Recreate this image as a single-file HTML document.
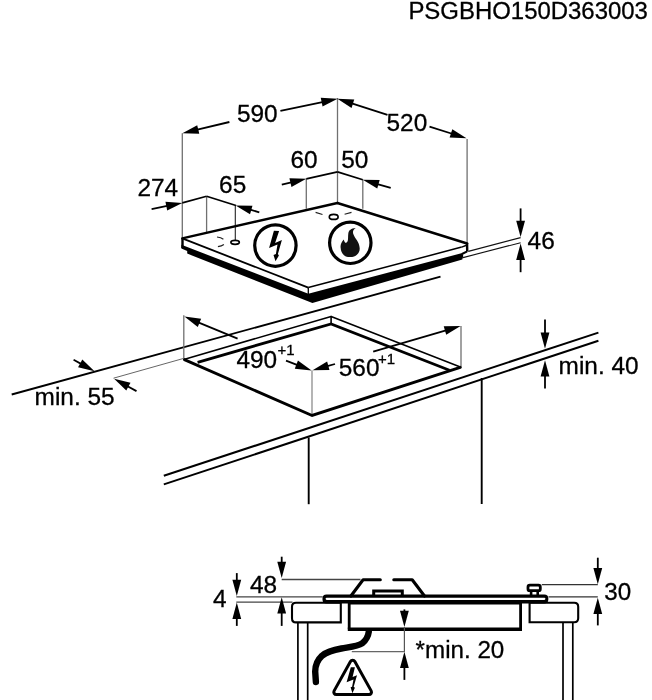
<!DOCTYPE html>
<html><head><meta charset="utf-8"><title>PSGBHO150D363003</title>
<style>
html,body{margin:0;padding:0;background:#fff;}
svg{display:block;filter:grayscale(1);}
text{font-family:"Liberation Sans",sans-serif;fill:#000;stroke:#000;stroke-width:0.3px;}
</style></head><body>
<svg width="652" height="700" viewBox="0 0 652 700">
<rect width="652" height="700" fill="#fff"/>
<text x="408.4" y="18.5" font-size="23.95" text-anchor="start" >PSGBHO150D363003</text>
<line x1="182.3" y1="133.3" x2="182.3" y2="238.4" stroke="#707070" stroke-width="1.3" stroke-linecap="butt"/>
<line x1="337.5" y1="98" x2="337.5" y2="202.6" stroke="#707070" stroke-width="1.3" stroke-linecap="butt"/>
<line x1="467.1" y1="139" x2="467.1" y2="243.5" stroke="#707070" stroke-width="1.3" stroke-linecap="butt"/>
<line x1="206.6" y1="196.3" x2="206.6" y2="232.4" stroke="#707070" stroke-width="1.3" stroke-linecap="butt"/>
<line x1="235.3" y1="205.4" x2="235.3" y2="240" stroke="#222" stroke-width="1.1" stroke-linecap="butt"/>
<line x1="306.3" y1="178.8" x2="306.3" y2="208.7" stroke="#707070" stroke-width="1.3" stroke-linecap="butt"/>
<line x1="362.8" y1="179.8" x2="362.8" y2="208.7" stroke="#707070" stroke-width="1.3" stroke-linecap="butt"/>
<line x1="182.3" y1="238.4" x2="337.4" y2="203" stroke="#000" stroke-width="2.4" stroke-linecap="round"/>
<line x1="337.4" y1="203" x2="467.1" y2="243.5" stroke="#000" stroke-width="2.5" stroke-linecap="round"/>
<line x1="182.3" y1="238.4" x2="308.3" y2="287.6" stroke="#000" stroke-width="1.8" stroke-linecap="butt"/>
<line x1="308.3" y1="287.6" x2="461.7" y2="247.1" stroke="#000" stroke-width="1.5" stroke-linecap="butt"/>
<line x1="461.7" y1="247.1" x2="467.1" y2="245.0" stroke="#000" stroke-width="1.5" stroke-linecap="butt"/>
<line x1="182.5" y1="238.4" x2="182.5" y2="248" stroke="#000" stroke-width="2.4" stroke-linecap="butt"/>
<line x1="308.3" y1="287.6" x2="308.3" y2="294" stroke="#000" stroke-width="1.3" stroke-linecap="butt"/>
<line x1="467.1" y1="243.0" x2="467.2" y2="251.6" stroke="#000" stroke-width="2.4" stroke-linecap="butt"/>
<polygon points="181.4,244.8 308.3,293.7 462.3,253 463.3,256 462.3,259.6 312.4,303 187.2,253.6 187.2,251 181.4,248.6" fill="#000" stroke="none" stroke-width="0" stroke-linejoin="miter"/>
<line x1="462" y1="254" x2="467.2" y2="251.4" stroke="#000" stroke-width="2" stroke-linecap="butt"/>
<line x1="468.3" y1="251.4" x2="520.6" y2="237.6" stroke="#111" stroke-width="1.1" stroke-linecap="butt"/>
<line x1="463" y1="257.6" x2="520.6" y2="242.7" stroke="#111" stroke-width="1.1" stroke-linecap="butt"/>
<line x1="520.6" y1="208.4" x2="520.6" y2="222.8" stroke="#000" stroke-width="1.8" stroke-linecap="butt"/>
<polygon points="520.60,237.10 516.20,220.80 525.00,220.80" fill="#000"/>
<line x1="520.6" y1="272.2" x2="520.6" y2="257.9" stroke="#000" stroke-width="1.8" stroke-linecap="butt"/>
<polygon points="520.60,243.60 525.00,259.90 516.20,259.90" fill="#000"/>
<text x="527.6" y="249.4" font-size="24.4" text-anchor="start" >46</text>
<line x1="229.4" y1="122" x2="196.3" y2="129.96" stroke="#000" stroke-width="1.8" stroke-linecap="butt"/>
<polygon points="182.40,133.30 197.22,125.21 199.28,133.77" fill="#000"/>
<line x1="280.4" y1="110.9" x2="323.61" y2="101.76" stroke="#000" stroke-width="1.8" stroke-linecap="butt"/>
<polygon points="337.60,98.80 322.56,106.48 320.74,97.87" fill="#000"/>
<text x="236.9" y="121.7" font-size="24.4" text-anchor="start" >590</text>
<line x1="387.5" y1="114.8" x2="351.01" y2="103.08" stroke="#000" stroke-width="1.8" stroke-linecap="butt"/>
<polygon points="337.40,98.70 354.26,99.50 351.57,107.88" fill="#000"/>
<line x1="429.5" y1="126.6" x2="452.87" y2="133.99" stroke="#000" stroke-width="1.8" stroke-linecap="butt"/>
<polygon points="466.50,138.30 449.63,137.58 452.29,129.19" fill="#000"/>
<text x="386.5" y="130.9" font-size="24.4" text-anchor="start" >520</text>
<line x1="151.6" y1="209.1" x2="168.28" y2="205.73" stroke="#000" stroke-width="1.8" stroke-linecap="butt"/>
<polygon points="182.30,202.90 167.19,210.44 165.45,201.81" fill="#000"/>
<line x1="182.3" y1="202.9" x2="206.6" y2="196.3" stroke="#000" stroke-width="1.7" stroke-linecap="butt"/>
<line x1="206.6" y1="196.3" x2="236" y2="205.5" stroke="#000" stroke-width="1.7" stroke-linecap="butt"/>
<line x1="259.3" y1="212.3" x2="249.33" y2="209.4" stroke="#000" stroke-width="1.8" stroke-linecap="butt"/>
<polygon points="235.60,205.40 252.48,205.73 250.02,214.18" fill="#000"/>
<text x="137.4" y="195.6" font-size="24.4" text-anchor="start" >274</text>
<text x="219.1" y="192.6" font-size="24.4" text-anchor="start" >65</text>
<line x1="281.8" y1="184.7" x2="292.4" y2="182.15" stroke="#000" stroke-width="1.8" stroke-linecap="butt"/>
<polygon points="306.30,178.80 291.48,186.89 289.42,178.34" fill="#000"/>
<line x1="306.3" y1="178.8" x2="337.5" y2="171.9" stroke="#000" stroke-width="1.7" stroke-linecap="butt"/>
<line x1="337.5" y1="171.9" x2="362.8" y2="179.8" stroke="#000" stroke-width="1.7" stroke-linecap="butt"/>
<line x1="390.7" y1="187.9" x2="376.53" y2="183.79" stroke="#000" stroke-width="1.8" stroke-linecap="butt"/>
<polygon points="362.80,179.80 379.68,180.12 377.23,188.57" fill="#000"/>
<text x="290.4" y="167.5" font-size="24.4" text-anchor="start" >60</text>
<text x="341.2" y="167.5" font-size="24.4" text-anchor="start" >50</text>
<ellipse cx="235.1" cy="242.3" rx="4.2" ry="2.0" fill="#fff" stroke="#000" stroke-width="1.7"/>
<ellipse cx="333.7" cy="216.9" rx="4.4" ry="2.5" fill="#fff" stroke="#000" stroke-width="1.7"/>
<path d="M217 237 Q221 237.4 223.4 239.3 M217.9 246.6 Q221.6 246.3 223.9 244.5" fill="none" stroke="#222" stroke-width="1.1" />
<path d="M315.6 212.4 L322.5 214.5 M344.6 214.3 L351.5 212.4" fill="none" stroke="#222" stroke-width="1.1" />
<circle cx="275.4" cy="245.6" r="20.7" fill="none" stroke="#000" stroke-width="3.2"/>
<polygon points="273.9,230.8 279.1,231 275.1,242.9 281.9,240.1 277.9,254.1 278.9,255.5 275.5,261.3 273.5,254.9 275.9,254.1 277.5,244.5 269.1,248.1" fill="#000" stroke="none" stroke-width="0" stroke-linejoin="miter"/>
<circle cx="350.3" cy="242.8" r="20.7" fill="none" stroke="#000" stroke-width="3.2"/>
<path d="M355.7 228 C351 228.5 348.9 230 348.3 233.5 C347.9 236.5 348.3 239 347.7 241.1 C347 242.8 346 243 345.3 242.7 C344.3 242 344.3 240.8 343.7 239.5 C341.5 242 340.3 244.5 340.6 247.5 C340.8 251 342 253.5 344 255.2 C346 256.8 348 257.2 350 257.1 C353 257 355.5 256 356.9 254.7 C358.8 253 359.8 250.8 359.7 248.3 C359.5 245 358.3 242.5 356.9 240.3 C355.5 238 354 236 353.3 233.9 C352.6 231.8 353 229.5 355.7 228 Z" fill="#111" stroke="none" stroke-width="1.7" />
<line x1="11.7" y1="394.5" x2="440.5" y2="276.7" stroke="#000" stroke-width="1.9" stroke-linecap="butt"/>
<line x1="183.8" y1="315.2" x2="183.8" y2="359.4" stroke="#707070" stroke-width="1.3" stroke-linecap="butt"/>
<line x1="312" y1="370.4" x2="312" y2="415.3" stroke="#777" stroke-width="1.1" stroke-linecap="butt"/>
<line x1="461" y1="326" x2="461" y2="367.3" stroke="#707070" stroke-width="1.3" stroke-linecap="butt"/>
<line x1="183.8" y1="359.4" x2="331.1" y2="316.6" stroke="#000" stroke-width="1.6" stroke-linecap="round"/>
<line x1="331.1" y1="316.6" x2="461" y2="367.2" stroke="#000" stroke-width="1.6" stroke-linecap="round"/>
<path d="M197.6 362.3 L331.1 323.9 L449.5 370.3" fill="none" stroke="#000" stroke-width="2.8" />
<line x1="331.1" y1="316.6" x2="331.1" y2="323.9" stroke="#000" stroke-width="1.6" stroke-linecap="butt"/>
<path d="M183.8 359.4 L312.1 415.5 L461 367.2" fill="none" stroke="#000" stroke-width="2.9" stroke-linejoin="miter"/>
<line x1="237.6" y1="338.7" x2="197.61" y2="322.09" stroke="#000" stroke-width="1.8" stroke-linecap="butt"/>
<polygon points="184.40,316.60 201.14,318.79 197.76,326.92" fill="#000"/>
<line x1="286" y1="360.7" x2="298.23" y2="365.33" stroke="#000" stroke-width="1.8" stroke-linecap="butt"/>
<polygon points="311.60,370.40 294.80,368.74 297.92,360.51" fill="#000"/>
<line x1="335" y1="364" x2="326.38" y2="366.39" stroke="#000" stroke-width="1.8" stroke-linecap="butt"/>
<polygon points="312.60,370.20 327.14,361.61 329.48,370.09" fill="#000"/>
<line x1="373.2" y1="351.6" x2="446.88" y2="330.02" stroke="#000" stroke-width="1.8" stroke-linecap="butt"/>
<polygon points="460.60,326.00 446.19,334.80 443.72,326.36" fill="#000"/>
<text x="236.4" y="367.6" font-size="24.4" text-anchor="start" >490</text>
<text x="277.5" y="355.2" font-size="15" text-anchor="start" >+1</text>
<text x="338.8" y="375.6" font-size="24.4" text-anchor="start" >560</text>
<text x="378" y="364" font-size="15" text-anchor="start" >+1</text>
<line x1="73.6" y1="359.8" x2="81.95" y2="364.35" stroke="#000" stroke-width="1.8" stroke-linecap="butt"/>
<polygon points="94.50,371.20 78.08,367.26 82.30,359.53" fill="#000"/>
<line x1="136.5" y1="391.1" x2="126.63" y2="385.68" stroke="#000" stroke-width="1.8" stroke-linecap="butt"/>
<polygon points="114.10,378.80 130.51,382.79 126.27,390.50" fill="#000"/>
<line x1="113.5" y1="378.2" x2="184" y2="358.3" stroke="#555" stroke-width="0.9" stroke-linecap="butt"/>
<text x="34.6" y="405.2" font-size="24.4" text-anchor="start" >min. 55</text>
<line x1="163.8" y1="475.8" x2="598.4" y2="332.6" stroke="#000" stroke-width="2.0" stroke-linecap="butt"/>
<line x1="163.8" y1="484.4" x2="598.4" y2="340.8" stroke="#000" stroke-width="2.0" stroke-linecap="butt"/>
<line x1="308.7" y1="437.5" x2="308.7" y2="504.2" stroke="#000" stroke-width="1.9" stroke-linecap="butt"/>
<line x1="481.7" y1="378" x2="481.7" y2="504" stroke="#000" stroke-width="1.9" stroke-linecap="butt"/>
<line x1="545" y1="319.5" x2="545.0" y2="334.5" stroke="#000" stroke-width="1.8" stroke-linecap="butt"/>
<polygon points="545.00,348.80 540.60,332.50 549.40,332.50" fill="#000"/>
<line x1="545" y1="388.5" x2="545.0" y2="374.5" stroke="#000" stroke-width="1.8" stroke-linecap="butt"/>
<polygon points="545.00,360.20 549.40,376.50 540.60,376.50" fill="#000"/>
<text x="558.6" y="374.1" font-size="24.4" text-anchor="start" >min. 40</text>
<line x1="281.7" y1="579.5" x2="360.5" y2="579.5" stroke="#444" stroke-width="1.3" stroke-linecap="butt"/>
<line x1="236.3" y1="596.8" x2="322.7" y2="596.8" stroke="#444" stroke-width="1.3" stroke-linecap="butt"/>
<line x1="236.3" y1="602.1" x2="292.5" y2="602.1" stroke="#444" stroke-width="1.3" stroke-linecap="butt"/>
<line x1="281.7" y1="556.7" x2="281.7" y2="563.7" stroke="#000" stroke-width="1.8" stroke-linecap="butt"/>
<polygon points="281.70,578.00 277.30,561.70 286.10,561.70" fill="#000"/>
<line x1="281.7" y1="625.9" x2="281.7" y2="611.6" stroke="#000" stroke-width="1.8" stroke-linecap="butt"/>
<polygon points="281.70,597.30 286.10,613.60 277.30,613.60" fill="#000"/>
<line x1="236.8" y1="573.1" x2="236.8" y2="581.7" stroke="#000" stroke-width="1.8" stroke-linecap="butt"/>
<polygon points="236.80,596.00 232.40,579.70 241.20,579.70" fill="#000"/>
<line x1="236.8" y1="625.9" x2="236.8" y2="616.9" stroke="#000" stroke-width="1.8" stroke-linecap="butt"/>
<polygon points="236.80,602.60 241.20,618.90 232.40,618.90" fill="#000"/>
<text x="250" y="593.2" font-size="24.4" text-anchor="start" >48</text>
<text x="213" y="607.3" font-size="24.4" text-anchor="start" >4</text>
<path d="M340.8 602.8 L296 602.8 Q292 602.8 292 606.8 L292 618.2 Q292 622.4 296 622.4 L340.8 622.4 L340.8 602.8 Z" fill="none" stroke="#000" stroke-width="2.1" />
<path d="M529.6 602.8 L574.2 602.8 Q578.2 602.8 578.2 606.8 L578.2 618.2 Q578.2 622.2 574.2 622.2 L529.6 622.2 Z" fill="none" stroke="#000" stroke-width="2.1" />
<line x1="297.9" y1="622.2" x2="297.9" y2="700" stroke="#000" stroke-width="1.7" stroke-linecap="butt"/>
<line x1="307.7" y1="622.2" x2="307.7" y2="700" stroke="#000" stroke-width="1.7" stroke-linecap="butt"/>
<line x1="563" y1="622.2" x2="563" y2="700" stroke="#000" stroke-width="1.7" stroke-linecap="butt"/>
<line x1="572.8" y1="622.2" x2="572.8" y2="700" stroke="#000" stroke-width="1.7" stroke-linecap="butt"/>
<rect x="322.5" y="594.5" width="225.8" height="9.1" rx="4" fill="#000"/>
<rect x="325.6" y="597.7" width="219.8" height="2.2" rx="1.1" fill="#fff"/>
<path d="M349.2 603 L349.2 629.2 M520.6 603 L520.6 629.2" fill="none" stroke="#000" stroke-width="2.8" />
<line x1="347.8" y1="629.2" x2="522" y2="629.2" stroke="#000" stroke-width="3.4" stroke-linecap="butt"/>
<line x1="349" y1="603.6" x2="520.6" y2="603.6" stroke="#000" stroke-width="1.8" stroke-linecap="butt"/>
<path d="M350.9 596 L363.1 579.7 L380.3 579.7" fill="none" stroke="#000" stroke-width="3.1" stroke-linecap="round" stroke-linejoin="round"/>
<path d="M393.8 579.7 L412.2 579.7 L424.5 596" fill="none" stroke="#000" stroke-width="3.1" stroke-linecap="round" stroke-linejoin="round"/>
<path d="M373.7 596 L373.7 590.9 L402.3 590.9 L402.3 596" fill="none" stroke="#000" stroke-width="3" />
<rect x="528" y="585.2" width="12.3" height="5.5" rx="1.8" fill="#fff" stroke="#000" stroke-width="2.8"/>
<path d="M531.1 592 L531.1 595.5 M537.7 592 L537.7 595.5" fill="none" stroke="#000" stroke-width="2.6" />
<line x1="541.8" y1="584.7" x2="597.8" y2="584.7" stroke="#333" stroke-width="1.3" stroke-linecap="butt"/>
<line x1="548.5" y1="596.8" x2="597.8" y2="596.8" stroke="#333" stroke-width="1.3" stroke-linecap="butt"/>
<line x1="597.8" y1="557.7" x2="597.8" y2="569.9" stroke="#000" stroke-width="1.8" stroke-linecap="butt"/>
<polygon points="597.80,584.20 593.40,567.90 602.20,567.90" fill="#000"/>
<line x1="597.8" y1="625.4" x2="597.8" y2="612.0" stroke="#000" stroke-width="1.8" stroke-linecap="butt"/>
<polygon points="597.80,597.70 602.20,614.00 593.40,614.00" fill="#000"/>
<text x="604.3" y="600" font-size="24.2" text-anchor="start" >30</text>
<line x1="404.4" y1="609.4" x2="404.4" y2="612.8" stroke="#000" stroke-width="1.8" stroke-linecap="butt"/>
<polygon points="404.40,627.10 400.00,610.80 408.80,610.80" fill="#000"/>
<line x1="404.4" y1="679.9" x2="404.4" y2="666.0" stroke="#000" stroke-width="1.8" stroke-linecap="butt"/>
<polygon points="404.40,651.70 408.80,668.00 400.00,668.00" fill="#000"/>
<line x1="404.4" y1="627" x2="404.4" y2="652" stroke="#555" stroke-width="1.2" stroke-linecap="butt"/>
<line x1="351.8" y1="651.7" x2="404.4" y2="651.7" stroke="#666" stroke-width="1.2" stroke-linecap="butt"/>
<text x="415.6" y="658.3" font-size="24.2" text-anchor="start" >*min. 20</text>
<path d="M368.8 631.6 C368.4 635 366 640.5 362.1 643.3 C358 646 352 646.6 341.4 648.5 C333 650 326 652.5 322.1 655.7 C318 659.5 315.2 665 315.2 671.6 L315.9 682" fill="none" stroke="#000" stroke-width="6.4" stroke-linecap="round"/>
<path d="M350.46 661.44 A2.5 2.5 0 0 1 354.84 661.44 L371.19 690.89 A2.5 2.5 0 0 1 369.00 694.60 L336.30 694.60 A2.5 2.5 0 0 1 334.11 690.89 Z" fill="none" stroke="#000" stroke-width="3.0" />
<polygon points="350.8,667.3 354.9,667.3 352.6,677.1 357,675.3 353.7,686.8 354.9,687.7 352.4,693.2 350.6,687.3 352.1,686.8 353.5,679.4 346.6,682.2" fill="#000" stroke="none" stroke-width="0" stroke-linejoin="miter"/>
</svg>
</body></html>
